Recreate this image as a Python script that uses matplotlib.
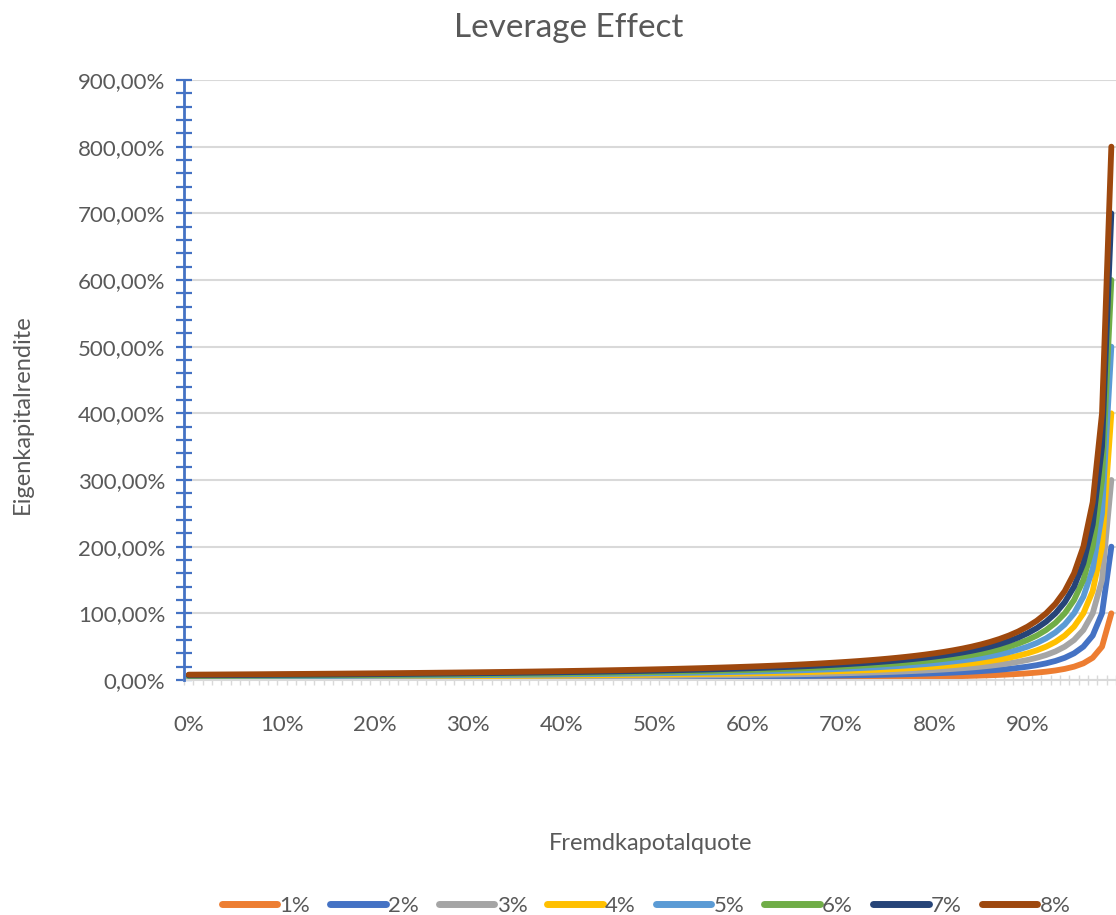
import matplotlib
matplotlib.use("Agg")
import matplotlib.pyplot as plt
from matplotlib.ticker import MultipleLocator, FuncFormatter
import numpy as np

# Leverage factor GK/EK for each debt ratio 0% .. 99% (one category per percent)
debt_ratio_labels = [f"{k}%" for k in range(100)]
leverage_factor = [
    1.000, 1.010, 1.020, 1.031, 1.042, 1.053, 1.064, 1.075, 1.087, 1.099,
    1.111, 1.124, 1.136, 1.149, 1.163, 1.176, 1.190, 1.205, 1.220, 1.235,
    1.250, 1.266, 1.282, 1.299, 1.316, 1.333, 1.351, 1.370, 1.389, 1.408,
    1.429, 1.449, 1.471, 1.493, 1.515, 1.538, 1.563, 1.587, 1.613, 1.639,
    1.667, 1.695, 1.724, 1.754, 1.786, 1.818, 1.852, 1.887, 1.923, 1.961,
    2.000, 2.041, 2.083, 2.128, 2.174, 2.222, 2.273, 2.326, 2.381, 2.439,
    2.500, 2.564, 2.632, 2.703, 2.778, 2.857, 2.941, 3.030, 3.125, 3.226,
    3.333, 3.448, 3.571, 3.704, 3.846, 4.000, 4.167, 4.348, 4.545, 4.762,
    5.000, 5.263, 5.556, 5.882, 6.250, 6.667, 7.143, 7.692, 8.333, 9.091,
    10.000, 11.111, 12.500, 14.286, 16.667, 20.000, 25.000, 33.333, 50.000, 100.000,
]
# Return on total capital per series (percent)
total_return = [1, 2, 3, 4, 5, 6, 7, 8]
series_labels = ["1%", "2%", "3%", "4%", "5%", "6%", "7%", "8%"]
series_colors = ["#ED7D31", "#4472C4", "#A5A5A5", "#FFC000",
                 "#5B9BD5", "#70AD47", "#264478", "#9E480E"]

text_color = "#595959"
grid_color = "#D9D9D9"
axis_blue = "#4472C4"
plt.rcParams["font.family"] = ["Lato", "DejaVu Sans"]

W, H = 1116, 915
fig = plt.figure(figsize=(W / 100, H / 100), dpi=100)
ax_left, ax_right = 184 / W, 1.0
ax_bottom, ax_top = (H - 680) / H, (H - 80) / H
ax = fig.add_axes([ax_left, ax_bottom, ax_right - ax_left, ax_top - ax_bottom])

x = np.arange(len(leverage_factor))
factor = np.array(leverage_factor)
for rate, label, color in zip(total_return, series_labels, series_colors):
    ax.plot(x, rate * factor, color=color, linewidth=4.2, label=label,
            solid_capstyle="round", solid_joinstyle="round")

ax.set_xlim(-0.5, 99.3)
ax.set_ylim(0, 900)

# y axis: blue line with crossing ticks every 20 %, labels every 100 %
ax.yaxis.set_major_locator(MultipleLocator(100))
ax.yaxis.set_minor_locator(MultipleLocator(20))
ax.yaxis.set_major_formatter(FuncFormatter(lambda v, _: f"{v:.2f}%".replace(".", ",")))
ax.tick_params(axis="y", which="both", direction="inout", length=11, width=1.6,
               color=axis_blue, labelcolor=text_color, labelsize=16, pad=8)
ax.spines["left"].set_color(axis_blue)
ax.spines["left"].set_linewidth(2)
ax.spines["left"].set_zorder(5)

# x axis: faint category ticks, labels every 10th category
ax.set_xticks(x[::10])
ax.set_xticklabels(debt_ratio_labels[::10])
ax.set_xticks(np.arange(-0.5, 100, 1), minor=True)
ax.tick_params(axis="x", which="major", length=0, labelcolor=text_color,
               labelsize=16, pad=25)
ax.tick_params(axis="x", which="minor", direction="inout", length=7, width=1,
               color=grid_color)
ax.spines["bottom"].set_color(grid_color)
ax.spines["bottom"].set_linewidth(1.5)
for side in ("top", "right"):
    ax.spines[side].set_visible(False)

ax.grid(axis="y", which="major", color=grid_color, linewidth=1.5)
ax.set_axisbelow(True)

fig.text(569 / W, 1 - 28 / H, "Leverage Effect", ha="center", va="center",
         fontsize=24, color=text_color)
fig.text(651 / W, 1 - 843 / H, "Fremdkapotalquote", ha="center", va="center",
         fontsize=17, color=text_color)
fig.text(22 / W, 1 - 414 / H, "Eigenkapitalrendite", ha="center", va="center",
         rotation=90, fontsize=17, color=text_color)

handles, labels = ax.get_legend_handles_labels()
leg = fig.legend(handles, labels, loc="center", bbox_to_anchor=(646 / W, 1 - 906 / H),
                 ncol=8, frameon=False, fontsize=16, handlelength=2.5,
                 handletextpad=0.1, columnspacing=0.9, labelcolor=text_color)
for line in leg.get_lines():
    line.set_linewidth(5)
    line.set_solid_capstyle("round")

fig.savefig("out.png", dpi=100)
